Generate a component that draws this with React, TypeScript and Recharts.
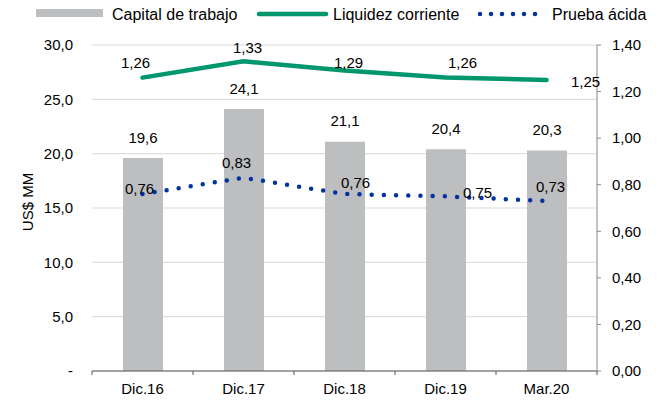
import { Bar, CartesianGrid, ComposedChart, LabelList, Line, XAxis, YAxis } from "recharts"

const categories = ["Dic.16", "Dic.17", "Dic.18", "Dic.19", "Mar.20"]
const capitalTrabajo = [19.6, 24.1, 21.1, 20.4, 20.3]
const liquidezCorriente = [1.26, 1.33, 1.29, 1.26, 1.25]
const pruebaAcida = [0.76, 0.83, 0.76, 0.75, 0.73]
const leftTicks = [0, 5, 10, 15, 20, 25, 30]
const rightTicks = [0, 0.2, 0.4, 0.6, 0.8, 1.0, 1.2, 1.4]

const data = categories.map((name, i) => ({
  name,
  capital: capitalTrabajo[i],
  liquidez: liquidezCorriente[i],
  prueba: pruebaAcida[i],
}))

const W = 666
const H = 402
const LEFT_W = 92
const RIGHT_W = 69
const FONT = "'Liberation Sans', Arial, sans-serif"
const FS = 15

const BAR_COLOR = "#BDBEC0"
const GREEN = "#00966E"
const BLUE = "#0033A0"

// label nudges (Excel placed these by hand)
const liqOffsets = [[-7, -15], [4, -14], [4, -8], [17, -15], [39, 2]]
const pruOffsets = [[-3, -6], [-7, -15], [11, -12], [32, -4], [4, -15]]

const comma = (v: number, d: number) => v.toFixed(d).replace(".", ",")

const pointLabel = (offsets: number[][]) => (props: any) => {
  const { x, y, value, index } = props
  const [dx, dy] = offsets[index] || [0, -12]
  return (
    <text x={x + dx} y={y + dy} textAnchor="middle" dominantBaseline="central" fontSize={FS} fontFamily={FONT} fill="#000">
      {comma(value, 2)}
    </text>
  )
}

const barLabel = (props: any) => {
  const { x, y, width, value } = props
  return (
    <text x={x + width / 2} y={y - 21} textAnchor="middle" dominantBaseline="central" fontSize={FS} fontFamily={FONT} fill="#000">
      {comma(value, 1)}
    </text>
  )
}

const bandW = (W - LEFT_W - RIGHT_W) / categories.length

const XTick = (props: any) => {
  const { x, y, payload, index } = props
  const left = x - bandW / 2
  const right = x + bandW / 2
  return (
    <g>
      <line x1={left} y1={y - 8} x2={left} y2={y - 4} stroke="#595959" />
      {index === categories.length - 1 && <line x1={right} y1={y - 8} x2={right} y2={y - 4} stroke="#595959" />}
      <text x={x} y={y + 9} textAnchor="middle" dominantBaseline="central" fontSize={FS} fontFamily={FONT} fill="#000">
        {payload.value}
      </text>
    </g>
  )
}

function LegendRow() {
  const ty = 14
  const lf = 16
  return (
    <svg width={W} height={30} style={{ position: "absolute", left: 0, top: 0 }}>
      <rect x={36} y={9} width={67} height={8} fill={BAR_COLOR} />
      <text x={112} y={ty} dominantBaseline="central" fontSize={lf} fontFamily={FONT}>Capital de trabajo</text>
      <line x1={259} y1={ty} x2={326} y2={ty} stroke={GREEN} strokeWidth={4.5} strokeLinecap="round" />
      <text x={333} y={ty} dominantBaseline="central" fontSize={lf} fontFamily={FONT}>Liquidez corriente</text>
      <line x1={480} y1={ty} x2={546} y2={ty} stroke={BLUE} strokeWidth={4.5} strokeLinecap="round" strokeDasharray="0 11" />
      <text x={552} y={ty} dominantBaseline="central" fontSize={lf} fontFamily={FONT}>Prueba ácida</text>
    </svg>
  )
}

export default function App() {
  return (
    <div style={{ position: "relative", width: W, height: H, fontFamily: FONT }}>
      <style>{"body{margin:0}"}</style>
      <ComposedChart width={W} height={H} data={data} margin={{ top: 45, right: 0, bottom: 0, left: 0 }}>
        <CartesianGrid vertical={false} yAxisId="left" stroke="#d9d9d9" />
        <XAxis
          dataKey="name"
          height={31}
          stroke="#595959"
          tickLine={false}
          tick={<XTick />}
          interval={0}
        />
        <YAxis
          yAxisId="left"
          width={LEFT_W}
          domain={[0, 30]}
          ticks={leftTicks}
          axisLine={false}
          tickLine={false}
          tickSize={0}
          tickMargin={19}
          tick={{ fill: "#000", fontSize: FS, fontFamily: FONT }}
          tickFormatter={(v: number) => (v === 0 ? "-" : comma(v, 1))}
          label={{
            content: (p: any) => {
              const vb = p.viewBox
              const cx = 27
              const cy = vb.y + vb.height / 2 - 6
              return (
                <text x={cx} y={cy} transform={`rotate(-90 ${cx} ${cy})`} textAnchor="middle" dominantBaseline="central" fontSize={FS} fontFamily={FONT} fill="#000">
                  US$ MM
                </text>
              )
            },
          }}
        />
        <YAxis
          yAxisId="right"
          orientation="right"
          width={RIGHT_W}
          domain={[0, 1.4]}
          ticks={rightTicks}
          stroke="#888"
          tickSize={4}
          tickMargin={11}
          tick={{ fill: "#000", fontSize: FS, fontFamily: FONT }}
          tickFormatter={(v: number) => comma(v, 2)}
        />
        <Bar yAxisId="left" dataKey="capital" fill={BAR_COLOR} barSize={40} isAnimationActive={false}>
          <LabelList dataKey="capital" content={barLabel} />
        </Bar>
        <Line
          yAxisId="right"
          dataKey="liquidez"
          stroke={GREEN}
          strokeWidth={4.5}
          strokeLinecap="round"
          dot={false}
          activeDot={false}
          isAnimationActive={false}
        >
          <LabelList dataKey="liquidez" content={pointLabel(liqOffsets)} />
        </Line>
        <Line
          yAxisId="right"
          dataKey="prueba"
          stroke={BLUE}
          strokeWidth={4.5}
          strokeLinecap="round"
          strokeDasharray="0 12.2"
          dot={false}
          activeDot={false}
          isAnimationActive={false}
        >
          <LabelList dataKey="prueba" content={pointLabel(pruOffsets)} />
        </Line>
      </ComposedChart>
      <LegendRow />
    </div>
  )
}
